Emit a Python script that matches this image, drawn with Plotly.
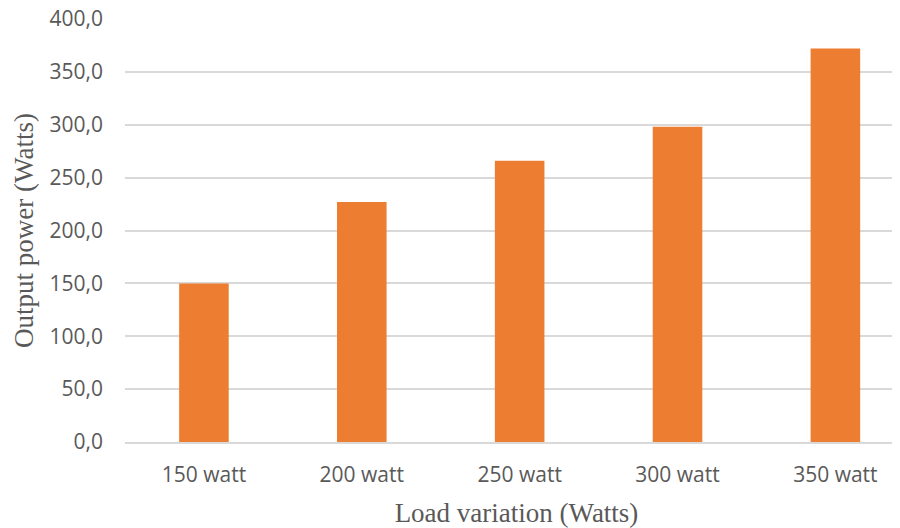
import plotly.graph_objects as go

categories = ["150 watt", "200 watt", "250 watt", "300 watt", "350 watt"]
output_power = [150.0, 227.0, 266.0, 298.0, 372.0]
y_ticks = [0, 50, 100, 150, 200, 250, 300, 350, 400]

fig = go.Figure()
fig.add_trace(go.Bar(
    x=categories,
    y=output_power,
    marker=dict(color="#ED7D31", line=dict(width=0)),
    width=0.314,
))

fig.update_layout(
    width=900,
    height=528,
    margin=dict(l=117, r=0, t=11, b=94),
    paper_bgcolor="white",
    plot_bgcolor="white",
    separators=", ",
    showlegend=False,
)
fig.update_xaxes(
    type="category",
    range=[-0.5, 4.46],
    automargin=False,
    showgrid=False,
    showline=True,
    linecolor="#d9d9d9",
    linewidth=1.5,
    ticks="",
    tickfont=dict(family="Open Sans", size=21, color="#595959"),
    ticklabelstandoff=13,
    ticklabeloverflow="allow",
    title=dict(text="Load variation (Watts)",
               font=dict(family="Liberation Serif", size=27, color="#595959"),
               standoff=16),
)
fig.update_yaxes(
    range=[0, 400],
    automargin=False,
    tickvals=y_ticks,
    tickformat=".1f",
    showgrid=True,
    gridcolor="#d9d9d9",
    gridwidth=1.5,
    zeroline=False,
    showline=False,
    ticks="",
    tickfont=dict(family="Open Sans", size=21, color="#595959"),
    ticklabelstandoff=21,
    ticklabeloverflow="allow",
    title=dict(text="Output power (Watts)",
               font=dict(family="Liberation Serif", size=27, color="#595959"),
               standoff=8),
)

fig.write_html("out.html")
